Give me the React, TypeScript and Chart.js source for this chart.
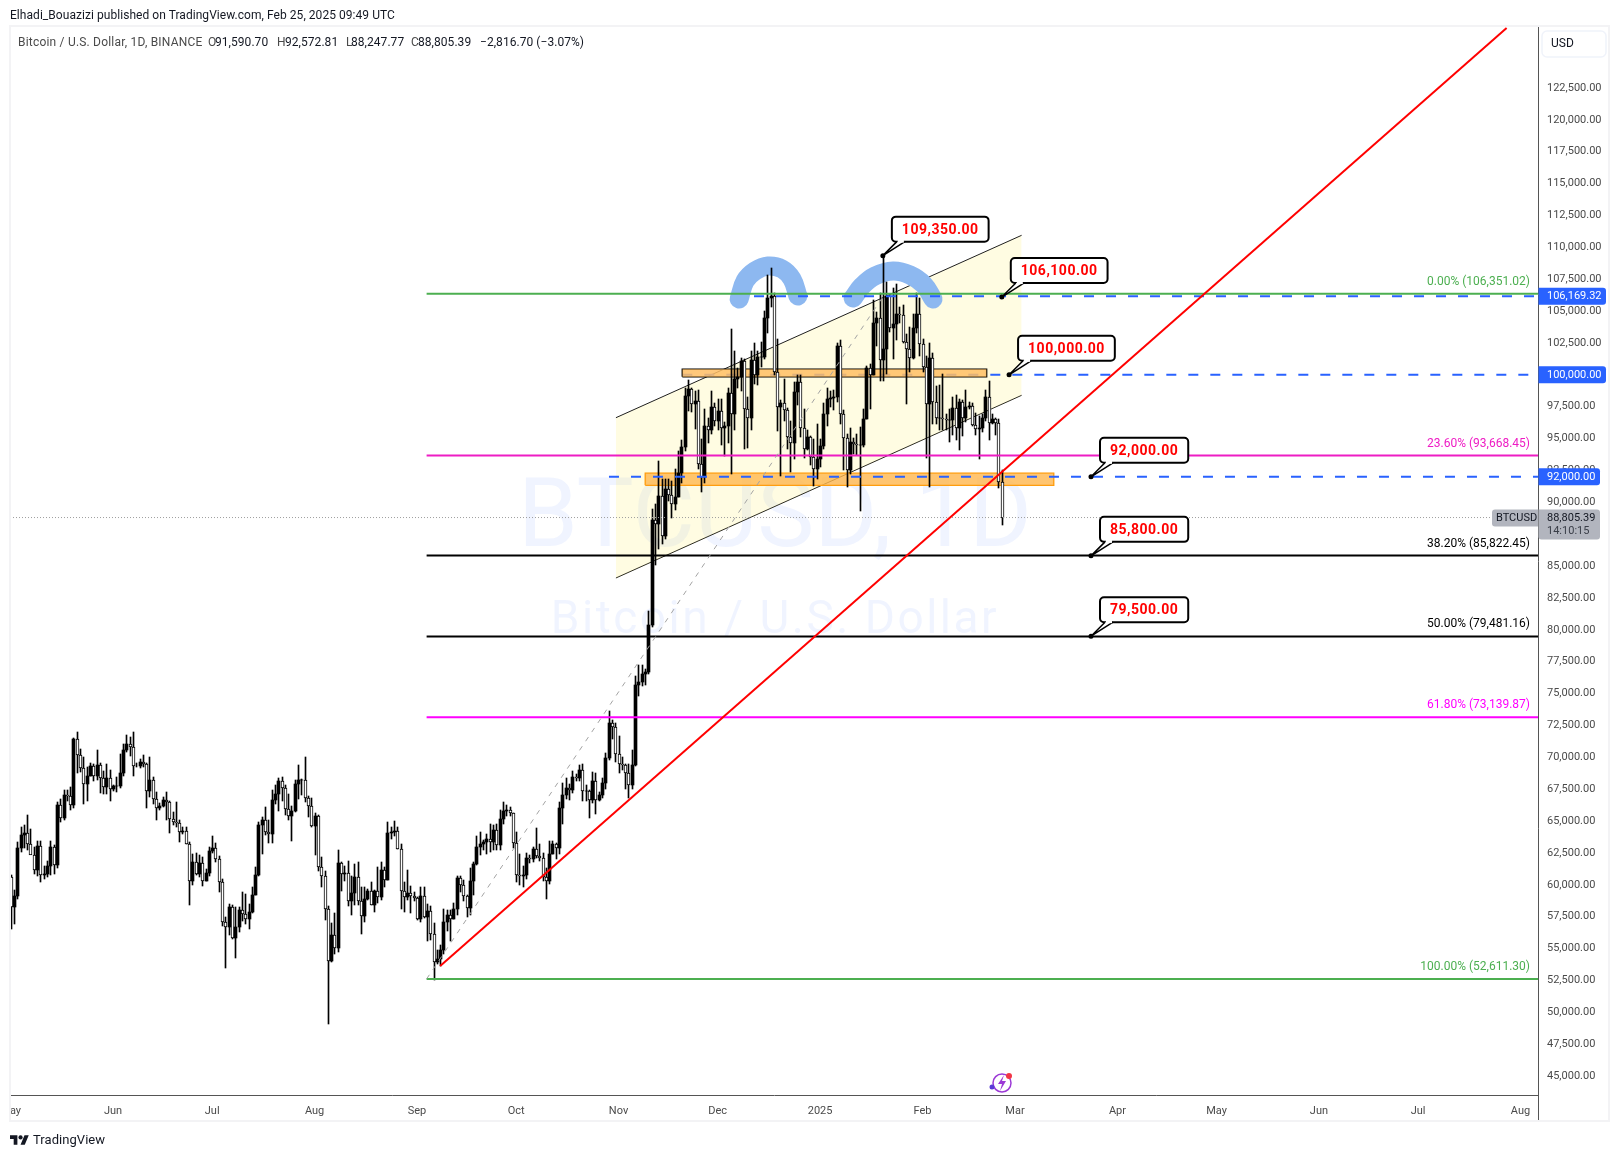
import React, { useEffect, useRef } from 'react';
import { Chart, registerables } from 'chart.js';

Chart.register(...registerables);

const FONT = 'Roboto, sans-serif';

// daily candles, index 0 = 1 May 2024, last = 25 Feb 2025
const opens = [
  // May
  60610,58250,59120,62890,63890,64030,63160,62330,61190,63070,60790,60820,61480,62940,61580,66270,65230,67050,66940,66270,71450,70140,69120,67930,68530,69280,68500,69390,68360,67630,68360,
  // Jun
  67490,67710,67740,68800,70550,71080,70790,69350,69300,69650,69500,67320,68240,66750,66010,66190,66640,66490,65150,64960,64830,64100,64250,63180,60270,61800,60860,61680,60320,60920,
  // Jul
  62680,62850,62040,60200,57050,56660,58230,55860,56720,58050,57720,57340,57900,59220,60800,64700,65050,64100,63980,66680,67150,68170,67560,65930,65370,65780,67900,68250,68250,66780,66190,
  // Aug
  64620,65360,61420,60680,58100,53990,56030,55030,61710,60880,60940,58710,59350,60600,58740,57560,58880,59490,58430,59490,59010,61160,60380,64040,64170,64250,62830,59500,59030,59380,59120,
  // Sep
  58970,57300,59130,57480,57970,56160,53950,54160,54880,57050,57650,57340,58130,60500,60000,59130,58210,60310,61650,62940,63200,63350,63580,63340,64260,63150,65180,65770,65870,65600,
  // Oct
  63300,60800,60650,60750,62070,62050,62800,62250,62130,60580,60270,62450,63200,62850,66050,67040,67620,67420,68420,68360,69000,67370,67370,66650,68170,66630,67010,68020,69930,72720,72340,
  // Nov
  70290,69490,69370,68770,67800,69360,75640,75900,76540,76700,80370,88650,88260,90500,87350,91050,90580,89850,90450,92300,94300,98350,98900,97750,97950,93000,91950,95950,95650,97450,
  // Dec
  96400,97200,95850,95950,98600,96950,99700,99800,101100,97350,96600,101150,100000,101400,101400,104450,106050,106150,100200,97450,97800,97250,95100,94650,98650,99400,95800,94150,95100,93550,92600,
  // Jan
  93400,94400,96900,98100,98200,98300,102250,96950,95050,92500,94700,94550,94500,94500,96550,100500,99980,104100,104450,101200,102000,106150,103650,103950,104800,104700,102600,102050,101300,103700,104750,
  // Feb
  102400,100650,97700,101350,97850,96600,96600,96500,96450,96450,97400,95800,97850,96600,97500,97550,96100,95750,95850,96600,98300,96200,96550,96250,91590,
];
const highs = [
  60780,59600,63320,64500,64650,65500,64400,62990,63400,63470,61490,61830,63450,63120,66500,66700,67450,67400,67700,71500,71980,70680,70050,69200,69560,69500,70600,69550,68900,69500,69000,
  67860,68440,70230,71050,71750,71620,71950,69560,69860,70150,69560,70000,68450,67300,66400,66900,67250,66570,65720,66480,65060,64520,64500,63370,62400,62480,62300,62200,61200,63000,
  63800,63290,62250,60470,57500,58500,58450,58230,58280,59470,59300,58500,59800,61400,64900,65350,66100,65100,67400,67800,68370,68480,67800,67100,66170,68240,69400,68320,70000,67000,66800,
  65600,65500,62200,61100,58300,57000,57800,62700,61800,61450,61850,60700,61600,61800,59850,59800,59700,60250,59600,61400,61800,61400,64950,64500,65000,64500,63200,60200,61150,59900,59450,
  59050,59800,59800,58500,58300,57000,54850,55300,58100,58050,58000,58600,60650,60660,60400,59200,61350,61800,63850,64130,63550,64000,64750,64700,64800,65850,66500,66250,66070,65600,
  64150,62400,61450,62500,62370,62950,64450,63200,62500,61300,63400,63450,63280,66500,67950,68400,67900,68950,68700,69400,69500,67850,67450,68850,68750,67300,68350,70300,73600,72950,72700,
  71650,70000,69450,69500,70550,76400,77250,77250,76950,81500,89500,89900,93250,91800,91850,91800,91700,92600,94000,94900,99000,99600,98950,98700,98800,94950,97350,96650,98700,97770,
  98100,98100,96300,99000,103600,101900,100500,101300,101250,98250,101850,102500,101900,102600,105000,107800,108350,106400,102800,98050,99700,97400,96400,99400,99950,99950,97300,95650,95200,94950,96150,
  95000,97800,98950,98750,98800,102500,102700,97250,95350,95850,95050,95350,95900,97350,100700,100850,105900,104950,106400,109350,107250,106300,106850,107100,105300,105450,103200,103750,104800,106400,106050,
  102800,101500,102500,101700,99100,99200,100100,96900,97300,98300,98450,98100,98050,98800,97900,97800,97000,96750,96900,98800,99500,96900,96650,96500,92570,
];
const lows = [
  56550,56940,58850,62600,62850,62700,62800,60870,60650,60190,60490,60630,60750,60820,61320,64950,65100,66600,65860,66060,68800,68850,66300,66600,68510,68100,68200,67200,67100,67130,66600,
  67390,67260,67610,68560,70380,70100,68500,69200,69120,69230,66050,66900,66300,65100,65880,66080,65100,64050,64700,64520,63370,63950,63230,58400,60000,60800,60600,59900,60300,60680,
  62500,61800,59400,56770,53500,56020,55720,54260,56300,57160,56950,56540,57800,59200,60680,62400,63900,63250,63300,66300,65800,66600,65450,65100,63400,65730,66700,67070,66500,65300,64530,
  62300,61100,59850,57200,49100,53950,54600,54700,59500,60300,58300,57650,58400,58450,56150,57100,58800,58400,57850,58600,58800,59800,60350,63600,63800,62800,58100,57850,58800,57750,58750,
  57200,57100,57400,55600,55650,52550,53750,53650,54600,56400,55550,57330,57650,59450,58700,57500,57600,59200,61550,62350,62760,62400,62600,62700,62700,62700,64800,65400,65400,62850,
  60200,60000,59800,60450,61700,61800,62100,61850,60300,58900,60050,62420,62050,62440,64800,66750,66650,67200,68100,68100,66550,66600,65250,66450,65550,66600,66800,67550,69750,71450,69650,
  68800,69000,67500,66800,67500,69350,74800,75600,75700,76500,80200,85100,86300,86700,87100,90100,88800,89400,90400,91500,94050,97200,97100,95750,92600,90800,91500,94650,95350,96000,
  95700,94500,93600,94650,92250,95650,98950,98700,94150,94250,95650,99300,99200,100600,101250,103300,105300,100000,95600,92100,96400,94200,92400,93400,97600,95150,93500,94100,92900,91300,91850,
  92800,94200,96000,97500,97250,97900,96150,92500,91200,92200,93800,93700,89350,94300,96500,97300,99950,102300,99500,99500,100100,103350,101250,102750,104100,102500,97750,100200,101250,103300,101500,
  100200,93500,91200,96150,96150,95650,95650,95700,94750,95250,94900,94100,95200,96300,97300,95950,95250,93400,95500,96400,94850,96150,95250,91150,88250,
];
const closes = [
  58250,59120,62890,63890,64030,63160,62330,61190,63070,60790,60820,61480,62940,61580,66270,65230,67050,66940,66270,71450,70140,69120,67930,68530,69280,68500,69390,68360,67630,68360,67490,
  67710,67740,68800,70550,71080,70790,69350,69300,69650,69500,67320,68240,66750,66010,66190,66640,66490,65150,64960,64830,64100,64250,63180,60270,61800,60860,61680,60320,60920,62680,
  62850,62040,60200,57050,56660,58230,55860,56720,58050,57720,57340,57900,59220,60800,64700,65050,64100,63980,66680,67150,68170,67560,65930,65370,65780,67900,68250,68250,66780,66190,64620,
  65360,61420,60680,58100,53990,56030,55030,61710,60880,60940,58710,59350,60600,58740,57560,58880,59490,58430,59490,59010,61160,60380,64040,64170,64250,62830,59500,59030,59380,59120,58970,
  57300,59130,57480,57970,56160,53950,54160,54880,57050,57650,57340,58130,60500,60000,59130,58210,60310,61650,62940,63200,63350,63580,63340,64260,63150,65180,65770,65870,65600,63300,
  60800,60650,60750,62070,62050,62800,62250,62130,60580,60270,62450,63200,62850,66050,67040,67620,67420,68420,68360,69000,67370,67370,66650,68170,66630,67010,68020,69930,72720,72340,70290,
  69490,69370,68770,67800,69360,75640,75900,76540,76700,80370,88650,88260,90500,87350,91050,90580,89850,90450,92300,94300,98350,98900,97750,97950,93000,91950,95950,95650,97450,96400,
  97200,95850,95950,98600,96950,99700,99800,101100,97350,96600,101150,100000,101400,101400,104450,106050,106150,100200,97450,97800,97250,95100,94650,98650,99400,95800,94150,95100,93550,92600,93400,
  94400,96900,98100,98200,98300,102250,96950,95050,92500,94700,94550,94500,94500,96550,100500,99980,104100,104450,101200,102000,106150,103650,103950,104800,104700,102600,102050,101300,103700,104750,102400,
  100650,97700,101350,97850,96600,96600,96500,96450,96450,97400,95800,97850,96600,97500,97550,96100,95750,95850,96600,98300,96200,96550,96250,91590,88805,
];

// axes
const monthDays = [0, 31, 61, 92, 123, 153, 184, 214, 245, 276, 304, 335, 365, 396, 426, 457];
const monthLabels = ['May', 'Jun', 'Jul', 'Aug', 'Sep', 'Oct', 'Nov', 'Dec', '2025', 'Feb', 'Mar', 'Apr', 'May', 'Jun', 'Jul', 'Aug'];
const priceTicks = [45000, 47500, 50000, 52500, 55000, 57500, 60000, 62500, 65000, 67500, 70000, 72500, 75000, 77500, 80000, 82500, 85000, 87500, 90000, 92500, 95000, 97500, 100000, 102500, 105000, 107500, 110000, 112500, 115000, 117500, 120000, 122500];

// fibonacci retracement
const fibDays = [125.9, 462.3];
const fibPcts = ['0.00%', '23.60%', '38.20%', '50.00%', '61.80%', '100.00%'];
const fibPrices = [106351.02, 93668.45, 85822.45, 79481.16, 73139.87, 52611.3];
const fibColors = ['#4caf50', '#ee1cc4', '#000000', '#000000', '#ff00ff', '#4caf50'];
const fibDiagDays = [125.9, 264.6];
const fibDiagPrices = [52611.3, 106351.02];

// trend line and channel
const trendDays = [130, 452.8];
const trendPrices = [53627, 127207];
const channelDays = [183.2, 306];
const channelUpper = [96637, 110945];
const channelLower = [84063, 98394];

// zones
const upperZoneDays = [203.3, 295.4];
const upperZonePrices = [99853, 100434];
const lowerZoneDays = [192.1, 315.7];
const lowerZonePrices = [91335, 92276];

// dashed levels
const dashStartDays = [225, 203.3, 181.1];
const dashPrices = [106169.32, 100000, 92000];
const lastPrice = 88805.39;

// head and shoulder brush strokes
const leftArcDays = [220.5, 222.3, 225.3, 229.2, 233.5, 236.5, 238.3];
const leftArcPrices = [105948, 107360, 108145, 108537, 108302, 107517, 106184];
const rightArcDays = [255, 257.7, 261.6, 267.1, 272.2, 276.5, 279.2];
const rightArcPrices = [106027, 106968, 107753, 108145, 107831, 107047, 105948];

// callouts
const calloutDays = [264, 300, 302.2, 327, 327, 327];
const calloutPrices = [109350, 106100, 100000, 92000, 85800, 79500];

const fmt = (v: number) => v.toLocaleString('en-US', { minimumFractionDigits: 2, maximumFractionDigits: 2 });
const pts = (xs: number[], ys: number[]) => xs.map((x, i) => ({ x, y: ys[i] }));
const flat = (xs: number[], y: number) => xs.map(x => ({ x, y }));

function lineSet(data: any[], color: string, width: number, order: number, extra: any = {}) {
  return { type: 'line', data, borderColor: color, borderWidth: width, pointRadius: 0, order, fill: false, tension: 0, ...extra };
}

function zoneSets(days: number[], prices: number[], fillColor: string, edge: string, edgeWidth: number) {
  const [x0, x1] = days;
  const [lo, hi] = prices;
  return [
    lineSet(flat(days, hi), 'transparent', 0, 6, { fill: '+1', backgroundColor: fillColor }),
    lineSet(flat(days, lo), 'transparent', 0, 6),
    lineSet([{ x: x0, y: lo }, { x: x0, y: hi }, { x: x1, y: hi }, { x: x1, y: lo }, { x: x0, y: lo }], edge, edgeWidth, 6),
  ];
}

const overlayPlugin = {
  id: 'overlay',
  // keep candles on whole pixels so they stay crisp
  afterDatasetsUpdate(chart: any) {
    chart.getSortedVisibleDatasetMetas().forEach((meta: any) => {
      if (meta.type !== 'bar') return;
      meta.data.forEach((bar: any) => {
        bar.x = Math.round(bar.x) + 0.5;
        bar.y = Math.round(bar.y);
        bar.base = Math.round(bar.base);
      });
    });
  },
  beforeDatasetsDraw(chart: any) {
    const { ctx } = chart;
    ctx.save();
    ctx.textAlign = 'center';
    ctx.textBaseline = 'middle';
    ctx.fillStyle = 'rgba(41,98,255,0.07)';
    ctx.font = `96px ${FONT}`;
    ctx.fillText('BTCUSD, 1D', 775, 522);
    ctx.font = `46px ${FONT}`;
    ctx.letterSpacing = '2.5px';
    ctx.fillText('Bitcoin / U.S. Dollar', 775, 621);
    ctx.letterSpacing = '0px';
    ctx.restore();
  },
  afterDraw(chart: any) {
    const { ctx } = chart;
    const xs = chart.scales.x;
    const ys = chart.scales.y;
    const right = chart.chartArea.right;
    ctx.save();

    // extend price axis line down to the frame
    ctx.strokeStyle = '#555555';
    ctx.lineWidth = 1;
    ctx.beginPath();
    ctx.moveTo(right + 0.5, chart.chartArea.bottom);
    ctx.lineTo(right + 0.5, 1122);
    ctx.stroke();

    // fib labels
    ctx.textAlign = 'right';
    ctx.textBaseline = 'middle';
    ctx.font = `12px ${FONT}`;
    fibPrices.forEach((p, i) => {
      ctx.fillStyle = fibColors[i];
      ctx.fillText(`${fibPcts[i]} (${fmt(p)})`, right - 8, ys.getPixelForValue(p) - 12);
    });

    // callouts
    ctx.lineJoin = 'round';
    calloutPrices.forEach((p, i) => {
      const ax = xs.getPixelForValue(calloutDays[i]);
      const ay = ys.getPixelForValue(p);
      const text = fmt(p);
      ctx.font = `bold 14px ${FONT}`;
      ctx.letterSpacing = '0.5px';
      const w = ctx.measureText(text).width + 20;
      const bx = ax + 9;
      const by = ay - 39;
      const h = 25;
      ctx.fillStyle = '#ffffff';
      ctx.strokeStyle = '#000000';
      ctx.lineWidth = 2;
      ctx.beginPath();
      ctx.roundRect(bx, by, w, h, 4);
      ctx.fill();
      ctx.stroke();
      ctx.lineWidth = 1.5;
      ctx.beginPath();
      ctx.moveTo(bx + 5, by + h);
      ctx.lineTo(ax, ay);
      ctx.lineTo(bx + 13, by + h);
      ctx.fill();
      ctx.stroke();
      ctx.fillRect(bx + 6, by + h - 2, 6, 3);
      ctx.fillStyle = '#000000';
      ctx.beginPath();
      ctx.arc(ax, ay, 2.5, 0, Math.PI * 2);
      ctx.fill();
      ctx.fillStyle = '#ff0000';
      ctx.textAlign = 'center';
      ctx.fillText(text, bx + w / 2, by + h / 2 + 1);
      ctx.letterSpacing = '0px';
    });

    // price tags
    ctx.textAlign = 'left';
    ctx.font = `11px ${FONT}`;
    dashPrices.forEach(p => {
      const y = ys.getPixelForValue(p);
      const text = fmt(p);
      ctx.fillStyle = '#2962ff';
      ctx.beginPath();
      ctx.roundRect(right + 0.5, y - 8.5, text.length > 9 ? 67.5 : 61.5, 17, [0, 3, 3, 0]);
      ctx.fill();
      ctx.fillStyle = '#ffffff';
      ctx.fillText(text, right + 9, y + 0.5);
    });
    const ly = ys.getPixelForValue(lastPrice);
    ctx.fillStyle = '#b2b5be';
    ctx.beginPath();
    ctx.roundRect(right - 46, ly - 8, 46, 17, [3, 0, 0, 3]);
    ctx.fill();
    ctx.beginPath();
    ctx.roundRect(right + 0.5, ly - 8, 61.5, 30, [0, 3, 3, 3]);
    ctx.fill();
    ctx.fillStyle = '#131722';
    ctx.fillText('BTCUSD', right - 42, ly + 0.5);
    ctx.fillText(fmt(lastPrice), right + 9, ly + 0.5);
    ctx.fillStyle = '#3a3e48';
    ctx.fillText('14:10:15', right + 9, ly + 14);

    // USD box
    ctx.strokeStyle = '#f0f3fa';
    ctx.lineWidth = 1.5;
    ctx.beginPath();
    ctx.roundRect(1542, 31, 64, 26, 5);
    ctx.stroke();
    ctx.fillStyle = '#131722';
    ctx.font = `12px ${FONT}`;
    ctx.fillText('USD', 1551, 44);

    // small icon near the time axis
    ctx.strokeStyle = '#9c39d6';
    ctx.lineWidth = 1.5;
    ctx.beginPath();
    ctx.arc(1002, 1083, 9, 0, Math.PI * 2);
    ctx.stroke();
    ctx.fillStyle = '#9c39d6';
    ctx.beginPath();
    ctx.moveTo(1004, 1075);
    ctx.lineTo(998, 1084);
    ctx.lineTo(1002, 1084);
    ctx.lineTo(1000, 1091);
    ctx.lineTo(1006, 1081);
    ctx.lineTo(1002, 1081);
    ctx.closePath();
    ctx.fill();
    ctx.fillStyle = '#f23645';
    ctx.beginPath();
    ctx.arc(1009, 1076, 3, 0, Math.PI * 2);
    ctx.fill();
    ctx.fillStyle = '#5b3bd6';
    ctx.beginPath();
    ctx.arc(992, 1087, 2.5, 0, Math.PI * 2);
    ctx.fill();

    ctx.restore();
  },
};

export default function App() {
  const canvasRef = useRef<HTMLCanvasElement>(null);

  useEffect(() => {
    if (!canvasRef.current) return;

    const wicks = highs.map((h, i) => ({ x: i, y: [lows[i], h] }));
    const upBodies: any[] = [];
    const downBodies: any[] = [];
    opens.forEach((o, i) => {
      if (closes[i] >= o) upBodies.push({ x: i, y: [o, closes[i]] });
      else downBodies.push({ x: i, y: [closes[i], o] });
    });

    const datasets: any[] = [
      // channel
      lineSet(pts(channelDays, channelUpper), '#1f1f1f', 1, 10, { fill: '+1', backgroundColor: 'rgba(255,235,59,0.15)' }),
      lineSet(pts(channelDays, channelLower), '#1f1f1f', 1, 10),
      // brush strokes
      lineSet(pts(leftArcDays, leftArcPrices), '#8db8f0', 19, 9, { tension: 0.4, borderCapStyle: 'round', borderJoinStyle: 'round' }),
      lineSet(pts(rightArcDays, rightArcPrices), '#8db8f0', 19, 9, { tension: 0.4, borderCapStyle: 'round', borderJoinStyle: 'round' }),
      // the 100k level sits under the upper zone
      lineSet(flat([dashStartDays[1], fibDays[1]], dashPrices[1]), '#2962ff', 2, 7, { borderDash: [10, 12] }),
      ...zoneSets(upperZoneDays, upperZonePrices, 'rgba(255,190,100,0.85)', '#000000', 1.5),
      ...zoneSets(lowerZoneDays, lowerZonePrices, 'rgba(255,183,77,0.8)', '#ff9800', 1.5),
      // candles
      { type: 'bar', data: wicks, backgroundColor: '#000000', barThickness: 1, grouped: false, order: 5 },
      { type: 'bar', data: upBodies, backgroundColor: '#000000', borderColor: '#000000', borderWidth: 0, barThickness: 3, grouped: false, order: 4 },
      { type: 'bar', data: downBodies, backgroundColor: '#ffffff', borderColor: '#000000', borderWidth: 1, borderSkipped: false, barThickness: 3, grouped: false, order: 4 },
      // levels on top
      lineSet(pts(fibDiagDays, fibDiagPrices), '#a3a3a3', 1, 3, { borderDash: [5, 6] }),
      ...fibPrices.map((p, i) => lineSet(flat(fibDays, p), fibColors[i], 2, 3)),
      lineSet(flat([dashStartDays[0], fibDays[1]], dashPrices[0]), '#2962ff', 2, 2.5, { borderDash: [10, 12] }),
      lineSet(flat([dashStartDays[2], fibDays[1]], dashPrices[2]), '#2962ff', 2, 2.5, { borderDash: [10, 12] }),
      lineSet(flat([-0.2, fibDays[1]], lastPrice), '#9e9e9e', 1, 2, { borderDash: [1, 2] }),
      lineSet(pts(trendDays, trendPrices), '#ff0000', 2, 1),
    ];

    const chart = new Chart(canvasRef.current, {
      type: 'bar',
      data: { datasets },
      options: {
        responsive: false,
        animation: false,
        events: [],
        layout: { padding: { left: 10, top: 27, right: 10, bottom: 36 } },
        plugins: { legend: { display: false }, tooltip: { enabled: false } },
        scales: {
          x: {
            type: 'linear',
            offset: false,
            min: -0.2,
            max: 462.3,
            grid: { display: false, offset: false },
            border: { display: true, color: '#555555', width: 1 },
            afterBuildTicks: (s: any) => { s.ticks = monthDays.map(value => ({ value })); },
            afterFit: (s: any) => { s.height = 27; s.paddingLeft = 0; s.paddingRight = 0; },
            ticks: {
              autoSkip: false,
              maxRotation: 0,
              padding: 2,
              color: '#4a4a4a',
              font: { family: FONT, size: 11 },
              callback: (v: any) => monthLabels[monthDays.indexOf(Number(v))] ?? '',
            },
          },
          y: {
            type: 'linear',
            position: 'right',
            min: 43508,
            max: 127285,
            grid: { display: false, drawTicks: false },
            border: { display: true, color: '#555555', width: 1 },
            afterBuildTicks: (s: any) => { s.ticks = priceTicks.map(value => ({ value })); },
            afterFit: (s: any) => { s.width = 72; s.paddingTop = 0; s.paddingBottom = 0; },
            ticks: {
              autoSkip: false,
              padding: 9,
              color: '#4a4a4a',
              font: { family: FONT, size: 11 },
              callback: (v: any) => fmt(Number(v)),
            },
          },
        },
      },
      plugins: [overlayPlugin],
    } as any);

    return () => chart.destroy();
  }, []);

  const label = { position: 'absolute', whiteSpace: 'nowrap', fontFamily: FONT, fontSize: 12, lineHeight: '16px', letterSpacing: '0.05px' } as React.CSSProperties;
  const legendTop = 34;
  const legendParts: [number, string, string, string][] = [
    [18, 'Bitcoin / U.S. Dollar, 1D, BINANCE', '#4a4a4a', '0.2px'],
    [208, 'O', '#4a4a4a', '0'],
    [277, 'H', '#4a4a4a', '0'],
    [346, 'L', '#4a4a4a', '0'],
    [411, 'C', '#4a4a4a', '0'],
  ];
  const legendValues: [number, string][] = [
    [215, '91,590.70'],
    [285, '92,572.81'],
    [351, '88,247.77'],
    [418, '88,805.39'],
    [480, '\u22122,816.70 (\u22123.07%)'],
  ];

  return (
    <div style={{ position: 'absolute', left: 0, top: 0, width: 1620, height: 1158, background: '#ffffff', overflow: 'hidden' }}>
      <canvas ref={canvasRef} width={1620} height={1158} style={{ display: 'block', position: 'absolute', left: 0, top: 0 }} />
      <div style={{ position: 'absolute', left: 0, top: 1096, width: 9, height: 30, background: '#ffffff' }} />
      <div style={{ position: 'absolute', left: 9, top: 25, width: 1601, height: 1097, boxSizing: 'border-box', border: '2px solid #f3f3f5', pointerEvents: 'none' }} />
      <div style={{ ...label, left: 10, top: 7, color: '#131722' }}>Elhadi_Bouazizi published on TradingView.com, Feb 25, 2025 09:49 UTC</div>
      {legendParts.map(([left, text, color, spacing]) => (
        <div key={left} style={{ ...label, left, top: legendTop, color, letterSpacing: spacing }}>{text}</div>
      ))}
      {legendValues.map(([left, text]) => (
        <div key={left} style={{ ...label, left, top: legendTop, color: '#131722' }}>{text}</div>
      ))}
      <svg style={{ position: 'absolute', left: 10, top: 1133 }} width="19" height="12" viewBox="0 0 36 22">
        <path d="M14 22H7V11H0V4h14v18zM28 22h-8l7.5-18h8L28 22z" fill="#131722" />
        <circle cx="20" cy="8" r="4" fill="#131722" />
      </svg>
      <div style={{ ...label, left: 33, top: 1132, fontSize: 13, color: '#131722' }}>TradingView</div>
    </div>
  );
}
